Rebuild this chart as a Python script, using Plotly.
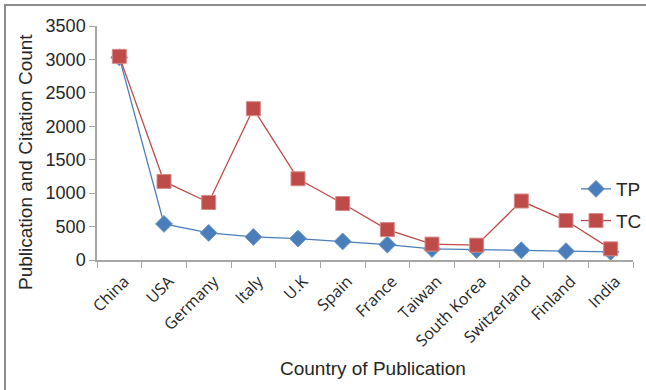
import plotly.graph_objects as go

countries = ["China", "USA", "Germany", "Italy", "U.K", "Spain", "France",
             "Taiwan", "South Korea", "Switzerland", "Finland", "India"]
tp = [3030, 540, 405, 345, 320, 278, 230, 165, 150, 145, 132, 122]
tc = [3046, 1175, 860, 2263, 1215, 845, 455, 238, 222, 882, 590, 167]
y_ticks = [0, 500, 1000, 1500, 2000, 2500, 3000, 3500]

W, H = 646, 390
ML, MR, MT, MB = 97, 13, 26, 130
pw, ph = W - ML - MR, H - MT - MB


def px_x(x):
    return (x - ML) / pw


def px_y(y):
    return 1 - (y - MT) / ph


fig = go.Figure()
fig.add_trace(go.Scatter(
    x=countries, y=tp, name="TP", mode="lines+markers", legendgroup="tp",
    line=dict(color="#4a7ebb", width=1.3),
    marker=dict(symbol="diamond", size=13, color="#4a7ebb",
                line=dict(color="#6b95c9", width=1)),
))
fig.add_trace(go.Scatter(
    x=countries, y=tc, name="TC", mode="lines+markers", legendgroup="tc",
    line=dict(color="#be4b48", width=1.3),
    marker=dict(symbol="square", size=14, color="#be4b48",
                line=dict(color="#d88a88", width=1)),
))

# outer frame (only the top and left edges fall inside the canvas)
fig.add_shape(type="rect", xref="paper", yref="paper",
              x0=px_x(5), x1=px_x(W + 60), y0=px_y(H + 60), y1=px_y(5),
              line=dict(color="#8c8c8c", width=2), layer="below")

title_font = dict(family="Liberation Sans, Arial, sans-serif", size=19, color="#262626")
fig.add_annotation(text="Publication and Citation Count", xref="paper", yref="paper",
                   x=px_x(25), y=px_y(162), textangle=-90, showarrow=False,
                   xanchor="center", yanchor="middle", font=title_font)
fig.add_annotation(text="Country of Publication", xref="paper", yref="paper",
                   x=px_x(373), y=px_y(368), showarrow=False,
                   xanchor="center", yanchor="middle", font=title_font)

fig.update_layout(
    width=W, height=H,
    margin=dict(l=ML, r=MR, t=MT, b=MB, autoexpand=False),
    paper_bgcolor="white", plot_bgcolor="white",
    font=dict(family="Liberation Sans, Arial, sans-serif", color="#262626"),
    showlegend=True,
    legend=dict(x=px_x(576), y=px_y(170), xanchor="left", yanchor="top",
                bgcolor="rgba(0,0,0,0)", font=dict(size=19, color="#262626"),
                tracegroupgap=4, itemwidth=30),
    xaxis=dict(
        range=[-0.5, len(countries) - 0.5], automargin=False,
        showline=True, linecolor="#a6a6a6", linewidth=1.5,
        ticks="outside", tickson="boundaries", ticklen=6, tickcolor="#a6a6a6",
        tickangle=-45, showgrid=False, ticklabelshift=5, ticklabelstandoff=4,
        tickfont=dict(family="Open Sans, Noto Sans, sans-serif", size=16, color="#262626"),
    ),
    yaxis=dict(
        range=[0, 3500], tickvals=y_ticks, automargin=False,
        showline=True, linecolor="#a6a6a6", linewidth=1.5,
        ticks="outside", ticklen=6, tickcolor="#a6a6a6", showgrid=False, zeroline=False,
        tickfont=dict(size=18, color="#262626"),
    ),
)

fig.write_html("out.html")
